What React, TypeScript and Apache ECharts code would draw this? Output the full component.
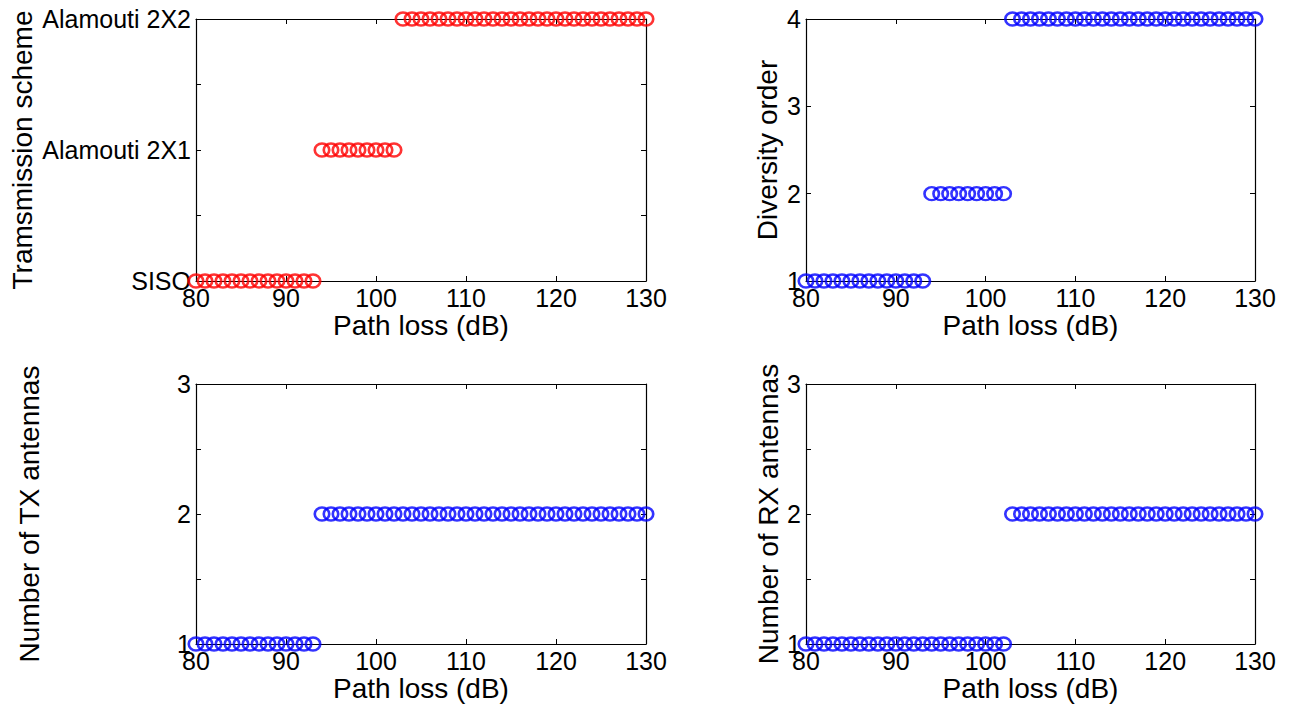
import React, { useEffect, useRef } from "react";
import * as echarts from "echarts";

const pathLoss = [
  80, 81, 82, 83, 84, 85, 86, 87, 88, 89, 90, 91, 92, 93, 94, 95, 96, 97, 98, 99,
  100, 101, 102, 103, 104, 105, 106, 107, 108, 109, 110, 111, 112, 113, 114, 115,
  116, 117, 118, 119, 120, 121, 122, 123, 124, 125, 126, 127, 128, 129, 130,
];
const schemeValues = [
  1, 1, 1, 1, 1, 1, 1, 1, 1, 1, 1, 1, 1, 1,
  2, 2, 2, 2, 2, 2, 2, 2, 2,
  3, 3, 3, 3, 3, 3, 3, 3, 3, 3, 3, 3, 3, 3, 3, 3, 3, 3, 3, 3, 3, 3, 3, 3, 3, 3, 3, 3,
];
const diversityValues = [
  1, 1, 1, 1, 1, 1, 1, 1, 1, 1, 1, 1, 1, 1,
  2, 2, 2, 2, 2, 2, 2, 2, 2,
  4, 4, 4, 4, 4, 4, 4, 4, 4, 4, 4, 4, 4, 4, 4, 4, 4, 4, 4, 4, 4, 4, 4, 4, 4, 4, 4, 4,
];
const txValues = [
  1, 1, 1, 1, 1, 1, 1, 1, 1, 1, 1, 1, 1, 1,
  2, 2, 2, 2, 2, 2, 2, 2, 2, 2, 2, 2, 2, 2, 2, 2, 2, 2, 2, 2, 2, 2, 2, 2, 2, 2, 2,
  2, 2, 2, 2, 2, 2, 2, 2, 2, 2,
];
const rxValues = [
  1, 1, 1, 1, 1, 1, 1, 1, 1, 1, 1, 1, 1, 1, 1, 1, 1, 1, 1, 1, 1, 1, 1,
  2, 2, 2, 2, 2, 2, 2, 2, 2, 2, 2, 2, 2, 2, 2, 2, 2, 2, 2, 2, 2, 2, 2, 2, 2, 2, 2, 2,
];
const schemeLabels = ["SISO", "Alamouti 2X1", "Alamouti 2X2"];
const xLabel = "Path loss (dB)";
const yLabels = ["Tramsmission scheme", "Diversity order", "Number of TX antennas", "Number of RX antennas"];

const FONT = "'Liberation Sans', Arial, Helvetica, sans-serif";
const RED = "#ff0000";
const BLUE = "#0000ff";
const ELLIPSE = "path://M0,10 A10,10 0 1,1 20,10 A10,10 0 1,1 0,10 Z";

export default function App() {
  const ref = useRef<HTMLDivElement>(null);
  useEffect(() => {
    if (!ref.current) return;
    const chart = echarts.init(ref.current, undefined, { renderer: "svg" });

    const grids = [
      { left: 196, top: 19, width: 450, height: 262 },
      { left: 806, top: 19, width: 449, height: 262 },
      { left: 196, top: 384, width: 450, height: 260 },
      { left: 806, top: 384, width: 449, height: 260 },
    ];
    const yCfg = [
      { min: 1, max: 3, interval: 0.5, gap: 160, fmt: (v: number) => (Number.isInteger(v) ? schemeLabels[v - 1] : "") },
      { min: 1, max: 4, interval: 1, gap: 25, fmt: (v: number) => String(v) },
      { min: 1, max: 3, interval: 0.5, gap: 153, fmt: (v: number) => (Number.isInteger(v) ? String(v) : "") },
      { min: 1, max: 3, interval: 0.5, gap: 24, fmt: (v: number) => (Number.isInteger(v) ? String(v) : "") },
    ];
    const seriesVals = [schemeValues, diversityValues, txValues, rxValues];
    const colors = [RED, BLUE, BLUE, BLUE];

    const axisLine = { show: true, onZero: false, lineStyle: { color: "#000", width: 1.2 } };
    const tick = { show: true, inside: true, length: 5, lineStyle: { color: "#000", width: 1 } };

    const xAxis: any[] = [];
    const yAxis: any[] = [];
    const series: any[] = [];
    grids.forEach((g, i) => {
      xAxis.push({
        type: "value", gridIndex: i, min: 80, max: 130, interval: 10, position: "bottom",
        axisLine, axisTick: tick, splitLine: { show: false },
        axisLabel: { show: true, margin: 4, color: "#000", fontSize: 25, fontFamily: FONT, showMinLabel: true, showMaxLabel: true },
        name: xLabel, nameLocation: "middle", nameGap: 30,
        nameTextStyle: { color: "#000", fontSize: 28, fontFamily: FONT },
      });
      xAxis.push({
        type: "value", gridIndex: i, min: 80, max: 130, interval: 10, position: "top",
        axisLine, axisTick: tick, splitLine: { show: false }, axisLabel: { show: false },
      });
      const c = yCfg[i];
      yAxis.push({
        type: "value", gridIndex: i, min: c.min, max: c.max, interval: c.interval, position: "left",
        axisLine, axisTick: tick, splitLine: { show: false },
        axisLabel: { show: true, margin: 5, color: "#000", fontSize: 25, fontFamily: FONT, formatter: c.fmt, showMinLabel: true, showMaxLabel: true },
        name: yLabels[i], nameLocation: "middle", nameGap: c.gap,
        nameTextStyle: { color: "#000", fontSize: 28, fontFamily: FONT },
      });
      yAxis.push({
        type: "value", gridIndex: i, min: c.min, max: c.max, interval: c.interval, position: "right",
        axisLine, axisTick: tick, splitLine: { show: false }, axisLabel: { show: false },
      });
      series.push({
        type: "scatter",
        xAxisIndex: i * 2,
        yAxisIndex: i * 2,
        clip: false,
        symbol: ELLIPSE,
        symbolSize: [14.5, 13],
        itemStyle: { color: "rgba(0,0,0,0)", borderColor: colors[i], borderWidth: 2.5 },
        data: pathLoss.map((x, k) => [x, seriesVals[i][k]]),
        z: 5,
      });
    });

    chart.setOption({
      animation: false,
      backgroundColor: "#ffffff",
      textStyle: { fontFamily: FONT },
      grid: grids.map((g) => ({ ...g, containLabel: false })),
      xAxis,
      yAxis,
      series,
    });
    return () => chart.dispose();
  }, []);

  return (
    <div
      ref={ref}
      style={{ position: "absolute", left: 0, top: 0, width: 1297, height: 711, background: "#fff" }}
    />
  );
}
